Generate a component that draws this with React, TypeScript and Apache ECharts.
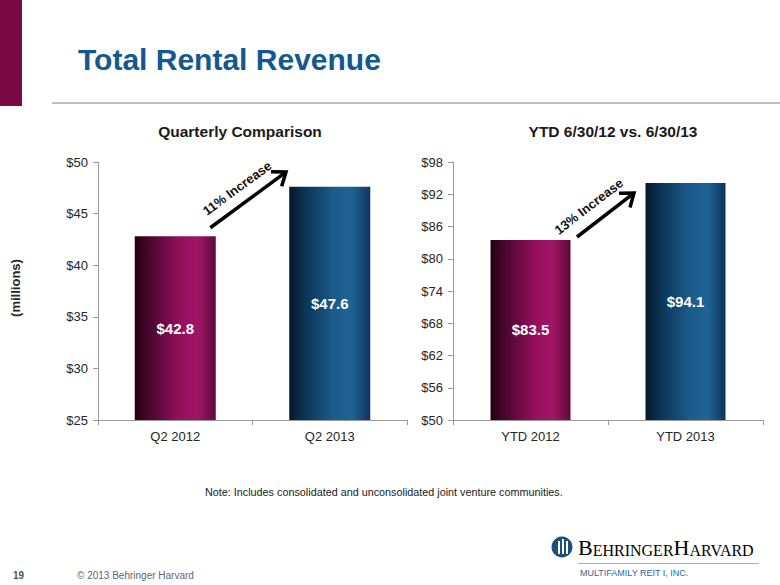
import React, { useEffect, useRef } from "react";
import * as echarts from "echarts";

const qCategories = ["Q2 2012", "Q2 2013"];
const qValues = [42.8, 47.6];
const qTicks = [25, 30, 35, 40, 45, 50];

const yCategories = ["YTD 2012", "YTD 2013"];
const yValues = [83.5, 94.1];
const yTicks = [50, 56, 62, 68, 74, 80, 86, 92, 98];

const qIncrease = "11% Increase";
const yIncrease = "13% Increase";

const FONT = "Liberation Sans, Arial, sans-serif";

const maroon = new echarts.graphic.LinearGradient(0, 0, 1, 0, [
  { offset: 0, color: "#24000f" },
  { offset: 0.2, color: "#4d0730" },
  { offset: 0.55, color: "#940f5c" },
  { offset: 0.78, color: "#a11567" },
  { offset: 1, color: "#5c0a3a" },
]);
const blue = new echarts.graphic.LinearGradient(0, 0, 1, 0, [
  { offset: 0, color: "#04182b" },
  { offset: 0.2, color: "#0c3558" },
  { offset: 0.55, color: "#1b5b8b" },
  { offset: 0.78, color: "#1f6396" },
  { offset: 1, color: "#0d3459" },
]);

function arrow(x: number, y: number, len: number, angle: number, label: string, tx: number, ty: number) {
  return {
    type: "group",
    x,
    y,
    rotation: angle,
    children: [
      { type: "line", shape: { x1: -len, y1: 0, x2: -1, y2: 0 }, style: { stroke: "#000", lineWidth: 3.5 } },
      {
        type: "polyline",
        shape: { points: [[-12, -9], [0, 0], [-12, 9]] },
        style: { stroke: "#000", lineWidth: 3.5, fill: null, lineJoin: "miter" },
      },
      {
        type: "text",
        x: tx,
        y: ty,
        style: {
          text: label,
          font: `bold 13px ${FONT}`,
          fill: "#111",
          align: "center",
          verticalAlign: "middle",
        },
      },
    ],
  };
}

export default function App() {
  const ref = useRef<HTMLDivElement>(null);
  useEffect(() => {
    if (!ref.current) return;
    const chart = echarts.init(ref.current, null, { renderer: "svg" });
    const axisCommon = {
      axisLine: { show: true, lineStyle: { color: "#9a9a9a", width: 1 } },
      axisTick: { show: true, length: 5, lineStyle: { color: "#9a9a9a" } },
    };
    const labelStyle = { color: "#262626", fontSize: 13, fontFamily: FONT };
    const barLabel = {
      show: true,
      position: "inside",
      color: "#fff",
      fontWeight: "bold",
      fontSize: 15,
      fontFamily: FONT,
      formatter: (p: any) => "$" + p.value.toFixed(1),
    };
    const titleStyle = { fontSize: 15.5, fontWeight: "bold", color: "#1a1a1a", fontFamily: FONT };
    chart.setOption({
      animation: false,
      backgroundColor: "#fff",
      textStyle: { fontFamily: FONT },
      title: [
        { text: "Quarterly Comparison", left: 235, top: 118, textAlign: "center", textStyle: titleStyle },
        { text: "YTD 6/30/12 vs. 6/30/13", left: 608, top: 118, textAlign: "center", textStyle: titleStyle },
      ],
      grid: [
        { left: 98, top: 162, width: 309, height: 258 },
        { left: 453, top: 162, width: 310, height: 258 },
      ],
      xAxis: [
        { type: "category", gridIndex: 0, data: qCategories, ...axisCommon, axisLabel: { ...labelStyle, margin: 10 } },
        { type: "category", gridIndex: 1, data: yCategories, ...axisCommon, axisLabel: { ...labelStyle, margin: 10 } },
      ],
      yAxis: [
        {
          type: "value",
          gridIndex: 0,
          min: qTicks[0],
          max: qTicks[qTicks.length - 1],
          splitLine: { show: false },
          axisLine: axisCommon.axisLine,
          axisTick: { ...axisCommon.axisTick, customValues: qTicks },
          axisLabel: { ...labelStyle, margin: 10, customValues: qTicks, formatter: (v: number) => "$" + v },
        },
        {
          type: "value",
          gridIndex: 1,
          min: yTicks[0],
          max: yTicks[yTicks.length - 1],
          splitLine: { show: false },
          axisLine: axisCommon.axisLine,
          axisTick: { ...axisCommon.axisTick, customValues: yTicks },
          axisLabel: { ...labelStyle, margin: 10, customValues: yTicks, formatter: (v: number) => "$" + v },
        },
      ],
      series: [
        {
          type: "bar",
          xAxisIndex: 0,
          yAxisIndex: 0,
          barWidth: 81,
          data: qValues.map((v, i) => ({ value: v, itemStyle: { color: i === 0 ? maroon : blue } })),
          label: barLabel,
        },
        {
          type: "bar",
          xAxisIndex: 1,
          yAxisIndex: 1,
          barWidth: 80,
          data: yValues.map((v, i) => ({ value: v, itemStyle: { color: i === 0 ? maroon : blue } })),
          label: barLabel,
        },
      ],
      graphic: [
        { type: "rect", shape: { x: 0, y: 0, width: 22, height: 106 }, style: { fill: "#7a0944" } },
        { type: "rect", shape: { x: 52, y: 102, width: 728, height: 2 }, style: { fill: "#bdbdbd" } },
        {
          type: "text",
          x: 78,
          y: 59,
          style: { text: "Total Rental Revenue", font: `bold 30px ${FONT}`, fill: "#13588f", verticalAlign: "middle" },
        },
        {
          type: "text",
          x: 15,
          y: 288,
          rotation: Math.PI / 2,
          style: {
            text: "(millions)",
            font: `bold 13px ${FONT}`,
            fill: "#262626",
            align: "center",
            verticalAlign: "middle",
          },
        },
        arrow(286, 172, 94, Math.atan2(56, 76), qIncrease, -49, -16),
        arrow(634, 193, 72, Math.atan2(44, 57), yIncrease, -44, -17),
        {
          type: "text",
          x: 205,
          y: 492,
          style: {
            text: "Note: Includes consolidated and unconsolidated joint venture communities.",
            font: `10.8px ${FONT}`,
            fill: "#1a1a1a",
            verticalAlign: "middle",
          },
        },
        {
          type: "text",
          x: 13,
          y: 575,
          style: { text: "19", font: `bold 10px ${FONT}`, fill: "#555", verticalAlign: "middle" },
        },
        {
          type: "text",
          x: 77,
          y: 575,
          style: { text: "© 2013 Behringer Harvard", font: `10px ${FONT}`, fill: "#666", verticalAlign: "middle" },
        },
        { type: "circle", shape: { cx: 562, cy: 547, r: 10.5 }, style: { fill: "#1d4f7d" } },
        { type: "rect", shape: { x: 558, y: 541, width: 2, height: 13 }, style: { fill: "#fff" } },
        { type: "rect", shape: { x: 562, y: 539, width: 2, height: 15 }, style: { fill: "#fff" } },
        { type: "rect", shape: { x: 566, y: 541, width: 2, height: 13 }, style: { fill: "#fff" } },
        {
          type: "text",
          x: 578,
          y: 558,
          style: {
            text: "{b|B}{s|EHRINGER}{b|H}{s|ARVARD}",
            verticalAlign: "bottom",
            rich: {
              b: { fontSize: 22, fontFamily: "Liberation Serif, serif", color: "#333", verticalAlign: "bottom", lineHeight: 22 },
              s: { fontSize: 16, fontFamily: "Liberation Serif, serif", color: "#333", verticalAlign: "bottom", lineHeight: 22 },
            },
          },
        },
        { type: "rect", shape: { x: 578, y: 563, width: 181, height: 1 }, style: { fill: "#b0b0b0" } },
        {
          type: "text",
          x: 580,
          y: 573,
          style: { text: "MULTIFAMILY REIT I, INC.", font: `9px ${FONT}`, fill: "#2a68a0", verticalAlign: "middle" },
        },
      ],
    });
    return () => chart.dispose();
  }, []);
  return <div ref={ref} style={{ position: "fixed", left: 0, top: 0, width: 780, height: 585 }} />;
}
